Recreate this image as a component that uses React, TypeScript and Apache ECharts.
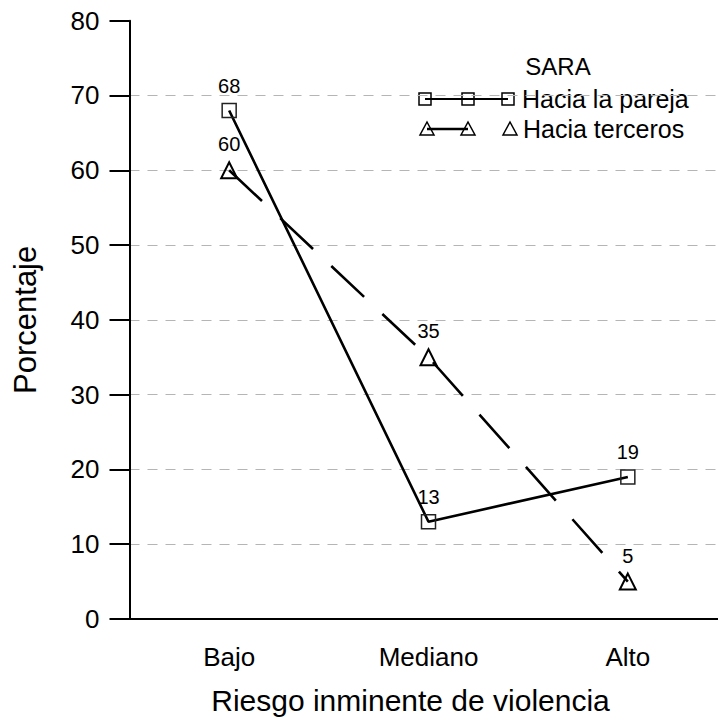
import React, { useEffect, useRef } from "react";
import * as echarts from "echarts";

const categories = ["Bajo", "Mediano", "Alto"];
const parejaValues = [68, 13, 19];
const tercerosValues = [60, 35, 5];
const seriesNames = ["Hacia la pareja", "Hacia terceros"];
const legendTitle = "SARA";
const yTitle = "Porcentaje";
const xTitle = "Riesgo inminente de violencia";

const FONT = '"Liberation Sans", Arial, sans-serif';

export default function App() {
  const ref = useRef<HTMLDivElement>(null);
  useEffect(() => {
    document.body.style.margin = "0";
    const chart = echarts.init(ref.current!, null, { renderer: "svg" });
    const tri = (cx: number, cy: number) => [
      [cx - 7, cy + 6],
      [cx + 7, cy + 6],
      [cx, cy - 7],
    ];
    chart.setOption({
      animation: false,
      backgroundColor: "#fff",
      textStyle: { fontFamily: FONT },
      grid: {
        left: 129.5,
        top: 20.7,
        width: 598,
        height: 598.3,
        containLabel: false,
        outerBoundsMode: "none",
      },
      xAxis: {
        type: "category",
        data: categories,
        boundaryGap: true,
        name: xTitle,
        nameLocation: "middle",
        nameGap: 66,
        nameTextStyle: { fontSize: 30, color: "#000", fontFamily: FONT, padding: [0, 36, 0, 0] },
        axisLine: { lineStyle: { color: "#000", width: 2 } },
        axisTick: { alignWithLabel: true, length: 20, lineStyle: { color: "#000", width: 2 } },
        axisLabel: { fontSize: 26, color: "#000", margin: 25, fontFamily: FONT },
        splitLine: { show: false },
      },
      yAxis: {
        type: "value",
        min: 0,
        max: 80,
        interval: 10,
        name: yTitle,
        nameLocation: "middle",
        nameGap: 89,
        nameTextStyle: { fontSize: 31, color: "#000", fontFamily: FONT },
        axisLine: { show: true, lineStyle: { color: "#000", width: 2 } },
        axisTick: { show: true, length: 20, lineStyle: { color: "#000", width: 2 } },
        axisLabel: { fontSize: 26, color: "#000", margin: 30, fontFamily: FONT },
        splitLine: {
          show: true,
          showMinLine: false,
          showMaxLine: false,
          lineStyle: { color: "#b5b5b5", type: [10, 8], width: 1.2 },
        },
      },
      series: [
        {
          name: seriesNames[0],
          type: "line",
          data: parejaValues,
          symbol: "rect",
          symbolSize: 14,
          lineStyle: { color: "#000", width: 2.6 },
          itemStyle: { color: "rgba(0,0,0,0)", borderColor: "#222", borderWidth: 1.5 },
          label: { show: true, position: "top", distance: 7, fontSize: 20, color: "#000", fontFamily: FONT },
        },
        {
          name: seriesNames[1],
          type: "line",
          data: tercerosValues,
          symbol: "triangle",
          symbolSize: 16,
          lineStyle: { color: "#000", width: 2.6, type: [45, 25] },
          itemStyle: { color: "rgba(0,0,0,0)", borderColor: "#000", borderWidth: 2 },
          label: { show: true, position: "top", distance: 7, fontSize: 20, color: "#000", fontFamily: FONT },
        },
      ],
      graphic: [
        {
          type: "text",
          x: 558,
          y: 66,
          style: { text: legendTitle, font: `24px ${FONT}`, fill: "#000", align: "center", verticalAlign: "middle" },
        },
        {
          type: "line",
          shape: { x1: 425, y1: 99, x2: 508, y2: 99 },
          style: { stroke: "#000", lineWidth: 2.2 },
        },
        ...[425, 468, 508].map((cx) => ({
          type: "rect",
          shape: { x: cx - 6, y: 93, width: 12, height: 12 },
          style: { fill: "none", stroke: "#000", lineWidth: 1.5 },
        })),
        {
          type: "text",
          x: 522,
          y: 99,
          style: { text: seriesNames[0], font: `25px ${FONT}`, fill: "#000", align: "left", verticalAlign: "middle" },
        },
        {
          type: "line",
          shape: { x1: 427, y1: 129, x2: 468, y2: 129 },
          style: { stroke: "#000", lineWidth: 2.6 },
        },
        ...[427, 468, 510].map((cx) => ({
          type: "polygon",
          shape: { points: tri(cx, 129) },
          style: { fill: "none", stroke: "#000", lineWidth: 1.5 },
        })),
        {
          type: "text",
          x: 523,
          y: 129,
          style: { text: seriesNames[1], font: `25px ${FONT}`, fill: "#000", align: "left", verticalAlign: "middle" },
        },
      ],
    });
    return () => chart.dispose();
  }, []);
  return <div ref={ref} style={{ width: 718, height: 726 }} />;
}
